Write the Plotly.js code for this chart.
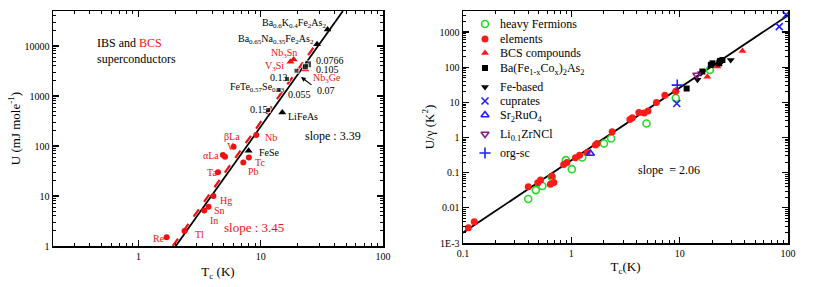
<!DOCTYPE html>
<html>
<head>
<meta charset="utf-8">
<script src="https://cdn.plot.ly/plotly-3.0.1.min.js"></script>
<style>html,body{margin:0;padding:0;background:#fff;}#chart{width:817px;height:287px;}</style>
</head>
<body>
<div id="chart"></div>
<script>
// ---------- LEFT PANEL DATA : U vs Tc ----------
const elemNames = ["Re","Tl","In","Sn","Hg","Ta","αLa","V","βLa","Pb","Tc","Nb"];
const elemTc    = [1.70, 2.38, 3.45, 3.74, 4.10, 4.47, 4.9, 5.1, 6.0, 7.2, 8.0, 9.2];
const elemU     = [1.49, 2.0,  5.1,  6.1,  10.0, 30,   66,  61,  97,  47,  59,  166];

const bcsCmpNames = ["Nb3Sn","V3Si","Nb3Ge"];
const bcsCmpTc    = [18.6, 17.5, 23.2];
const bcsCmpU     = [5400, 4850, 3400];

const coNames = ["0.0766","0.105","0.07","0.13","0.055","0.15"];
const coTc    = [24.4, 23.2, 19.6, 16.4, 14.0, 11.5];
const coU     = [4300, 3850, 3200, 2190, 1320, 525];

const ibsNames = ["Ba0.6K0.4Fe2As2","Ba0.65Na0.35Fe2As2","LiFeAs","FeSe"];
const ibsTc    = [35.2, 28.9, 15.0, 7.96];
const ibsU     = [21400, 10800, 470, 80];

const ibsFitTc = [2.02, 47];      // solid black fit, slope 3.39
const ibsFitU  = [1, 50000];
const bcsFitTc = [1.91, 28.5];    // dashed red fit, slope 3.45
const bcsFitSlope = 3.45;

const leftXTicks = [1, 10, 100];
const leftXTickText = ["1", "10", "100"];
const leftYTicks = [1, 10, 100, 1000, 10000];
const leftYTickText = ["1", "10", "100", "1000", "10000"];

// ---------- RIGHT PANEL DATA : U/gamma vs Tc ----------
const hfTc = [0.40, 0.47, 0.54, 0.66, 0.89, 1.01, 1.26, 2.0, 2.33, 4.94, 9.2, 19];
const hfU  = [0.0178, 0.032, 0.042, 0.075, 0.228, 0.126, 0.27, 0.68, 0.94, 2.5, 13.4, 84];

const elTc = [0.112, 0.127, 0.40, 0.49, 0.52, 0.64, 0.69, 0.66, 0.85, 0.91, 1.09, 1.19, 1.40, 1.67, 1.73, 2.38, 3.47, 3.65, 4.2, 4.7, 5.1, 6.1, 7.3, 9.2];
const elU  = [0.0027, 0.0040, 0.040, 0.052, 0.062, 0.047, 0.053, 0.080, 0.172, 0.196, 0.265, 0.316, 0.378, 0.61, 0.68, 1.45, 3.27, 3.63, 5.2, 5.0, 5.7, 9.9, 16, 20.8];

const bcsTc = [9.2, 18, 22.3, 38];
const bcsU  = [22, 54, 105, 290];

const bfcTc = [11.6, 16.2, 19.4, 20.1, 23.2, 23.6, 24.8];
const bfcU  = [24.8, 75.5, 117, 129, 129, 151, 160];

const febTc = [14.6, 15.7, 23.6, 29.6];
const febU  = [44, 68, 145, 162];

const cupTc = [9.4, 83, 96];
const cupU  = [9.3, 1430, 3100];

const srTc = [1.5];   const srU = [0.353];
const liTc = [14.4];  const liU = [60];
const orgTc = [9.5];  const orgU = [31];

const rightFitTc = [0.1, 100];     // slope 2.06
const rightFitU0 = 0.00197;
const rightFitSlope = 2.06;

const rightXTicks = [0.1, 1, 10, 100];
const rightXTickText = ["0.1", "1", "10", "100"];
const rightYTicks = [0.001, 0.01, 0.1, 1, 10, 100, 1000];
const rightYTickText = ["1E-3", "0.01", "0.1", "1", "10", "100", "1000"];

const legendLabels = ["heavy Fermions", "elements", "BCS compounds",
  "Ba(Fe<sub>1-x</sub>Co<sub>x</sub>)<sub>2</sub>As<sub>2</sub>", "Fe-based", "cuprates",
  "Sr<sub>2</sub>RuO<sub>4</sub>", "Li<sub>0.1</sub>ZrNCl", "org-sc"];

// ---------- BUILD ----------
const W = 817, H = 287;
const FONT = "Liberation Serif, Times New Roman, serif";
const RED = "#ee1111";

const traces = [];
// left fits
traces.push({x: ibsFitTc, y: ibsFitU, xaxis:'x', yaxis:'y', mode:'lines', line:{color:'black', width:1.8}, hoverinfo:'skip'});
traces.push({x: bcsFitTc, y: bcsFitTc.map(t => Math.pow(t / bcsFitTc[0], bcsFitSlope)), xaxis:'x', yaxis:'y', mode:'lines', line:{color:RED, width:2.2, dash:'dash'}, hoverinfo:'skip'});
// left points
traces.push({x: elemTc, y: elemU, text: elemNames, xaxis:'x', yaxis:'y', mode:'markers', marker:{symbol:'circle', size:6, color:RED}});
traces.push({x: bcsCmpTc, y: bcsCmpU, text: bcsCmpNames, xaxis:'x', yaxis:'y', mode:'markers', marker:{symbol:'triangle-up', size:7, color:RED}});
traces.push({x: coTc, y: coU, text: coNames, xaxis:'x', yaxis:'y', mode:'markers', marker:{symbol:'square', size:[7,6,5,5,5,5], color:'black'}});
traces.push({x: ibsTc, y: ibsU, text: ibsNames, xaxis:'x', yaxis:'y', mode:'markers', marker:{symbol:'triangle-up', size:7, color:'black'}});

// right fit
traces.push({x: rightFitTc, y: rightFitTc.map(t => rightFitU0 * Math.pow(t / rightFitTc[0], rightFitSlope)), xaxis:'x2', yaxis:'y2', mode:'lines', line:{color:'black', width:1.8}, hoverinfo:'skip'});
// right series
const rs = [
  {x:hfTc, y:hfU, marker:{symbol:'circle-open', size:7, color:'#22dd22', line:{width:1.6}}},
  {x:elTc, y:elU, marker:{symbol:'circle', size:7, color:'#ff1a1a'}},
  {x:bcsTc, y:bcsU, marker:{symbol:'triangle-up', size:7, color:'#ff1a1a'}},
  {x:bfcTc, y:bfcU, marker:{symbol:'square', size:6, color:'black'}},
  {x:febTc, y:febU, marker:{symbol:'triangle-down', size:7, color:'black'}},
  {x:cupTc, y:cupU, marker:{symbol:'x-thin-open', size:7, color:'#1f1fff', line:{width:1.6, color:'#1f1fff'}}},
  {x:srTc, y:srU, marker:{symbol:'triangle-up-open', size:7, color:'#1f1fff', line:{width:1.6}}},
  {x:liTc, y:liU, marker:{symbol:'triangle-down-open', size:7, color:'#8b1a8b', line:{width:1.6}}},
  {x:orgTc, y:orgU, marker:{symbol:'cross-thin-open', size:8, color:'#1f1fff', line:{width:1.6, color:'#1f1fff'}}}
];
rs.forEach((s, i) => traces.push({name:legendLabels[i].replace(/<[^>]+>/g,''), x:s.x, y:s.y, xaxis:'x2', yaxis:'y2', mode:'markers', marker:s.marker}));

// compact legend (Plotly's own legend rows are too tall) drawn on a full-page pixel axis
const legendRowY = [24, 39, 53, 68, 87, 101, 115, 134, 153];
const legendMarkX = 485, legendTextX = 498;
rs.forEach((s, i) => traces.push({x:[legendMarkX], y:[legendRowY[i]], xaxis:'x3', yaxis:'y3', mode:'markers',
  marker:Object.assign({}, s.marker), hoverinfo:'skip', cliponaxis:false}));

const axBase = {
  type:'log', showline:true, linecolor:'black', linewidth:1.5, mirror:'ticks',
  ticks:'inside', ticklen:6, tickwidth:1.2, tickcolor:'black',
  showgrid:false, zeroline:false, tickmode:'array',
  tickfont:{family:FONT, size:10, color:'black'},
  minor:{ticks:'inside', ticklen:3, tickwidth:1, tickcolor:'black', dtick:'D1', showgrid:false}
};

function px(x){ return x / W; }
function py(y){ return 1 - y / H; }
function lab(text, x, y, color, size, anchor){
  return {text:text, x:px(x), y:py(y), xref:'paper', yref:'paper', xanchor:anchor||'left', yanchor:'middle',
          showarrow:false, font:{family:FONT, size:size||10, color:color||'black'}};
}
const annotations = [
  lab('IBS and <span style="color:'+RED+'">BCS</span>', 95, 43, 'black', 12),
  lab('superconductors', 95, 59, 'black', 12),
  lab('Ba<sub>0.6</sub>K<sub>0.4</sub>Fe<sub>2</sub>As<sub>2</sub>', 328, 24, 'black', 10, 'right'),
  lab('Ba<sub>0.65</sub>Na<sub>0.35</sub>Fe<sub>2</sub>As<sub>2</sub>', 316, 39, 'black', 10, 'right'),
  lab('Nb<sub>3</sub>Sn', 269, 53, RED, 10),
  lab('V<sub>3</sub>Si', 263, 67, RED, 10),
  lab('0.0766', 314, 60, 'black', 10),
  lab('0.105', 314, 69, 'black', 10),
  lab('Nb<sub>3</sub>Ge', 311, 79, RED, 10),
  lab('0.13', 268, 77, 'black', 10),
  lab('FeTe<sub>0.57</sub>Se<sub>0.43</sub>', 228, 88, 'black', 10),
  lab('0.055', 286, 95, 'black', 10),
  lab('0.07', 315, 90, 'black', 10),
  lab('0.15', 248, 110, 'black', 10),
  lab('LiFeAs', 286, 116, 'black', 10),
  lab('Nb', 263, 137, RED, 10),
  lab('slope : 3.39', 303, 136, 'black', 12),
  lab('βLa', 222, 136, RED, 10),
  lab('V', 225, 146, RED, 10),
  lab('αLa', 201, 155, RED, 10),
  lab('FeSe', 257, 152, 'black', 10),
  lab('Tc', 253, 162, RED, 10),
  lab('Pb', 246, 171, RED, 10),
  lab('Ta', 205, 172, RED, 10),
  lab('Hg', 218, 200, RED, 10),
  lab('Sn', 212, 210, RED, 10),
  lab('In', 208, 220, RED, 10),
  lab('slope : 3.45', 222, 227, RED, 13),
  lab('Tl', 193, 234, RED, 10),
  lab('Re', 151, 238, RED, 10),
  lab('slope  = 2.06', 636, 170, 'black', 12),
  {x:px(301), y:py(77), ax:12, ay:9, xref:'paper', yref:'paper', showarrow:true, arrowhead:2, arrowsize:0.8, arrowwidth:1.2, arrowcolor:'black', text:''}
];
legendLabels.forEach((t, i) => annotations.push(lab(t, legendTextX, legendRowY[i] + (i === 3 || i === 6 || i === 7 ? 1 : 0), 'black', 12)));

const layout = {
  width:W, height:H, margin:{l:0, r:0, t:0, b:0},
  paper_bgcolor:'white', plot_bgcolor:'rgba(0,0,0,0)',
  font:{family:FONT, color:'black'},
  showlegend:false,
  xaxis: Object.assign({}, axBase, {domain:[px(53), px(383)], range:[Math.log10(0.2), 2], anchor:'y',
          tickvals:leftXTicks, ticktext:leftXTickText,
          title:{text:'T<sub>c</sub> (K)', font:{family:FONT, size:13}, standoff:6}}),
  yaxis: Object.assign({}, axBase, {domain:[py(246), py(11)], range:[0, 4.7], anchor:'x',
          tickvals:leftYTicks, ticktext:leftYTickText,
          title:{text:'U (mJ mole<sup>-1</sup>)', font:{family:FONT, size:13}, standoff:1}}),
  xaxis2: Object.assign({}, axBase, {domain:[px(463), px(788)], range:[-1, 2], anchor:'y2',
          tickvals:rightXTicks, ticktext:rightXTickText,
          title:{text:'T<sub>c</sub>(K)', font:{family:FONT, size:13}, standoff:4}}),
  yaxis2: Object.assign({}, axBase, {domain:[py(243), py(11)], range:[-3, 3.6], anchor:'x2',
          tickvals:rightYTicks, ticktext:rightYTickText,
          title:{text:'U/γ (K<sup>2</sup>)', font:{family:FONT, size:13}, standoff:2}}),
  xaxis3: {domain:[0,1], range:[0, W], visible:false, fixedrange:true, anchor:'y3'},
  yaxis3: {domain:[0,1], range:[H, 0], visible:false, fixedrange:true, anchor:'x3'},
  annotations: annotations
};

Plotly.newPlot('chart', traces, layout, {staticPlot:true, displayModeBar:false});
</script>
</body>
</html>
